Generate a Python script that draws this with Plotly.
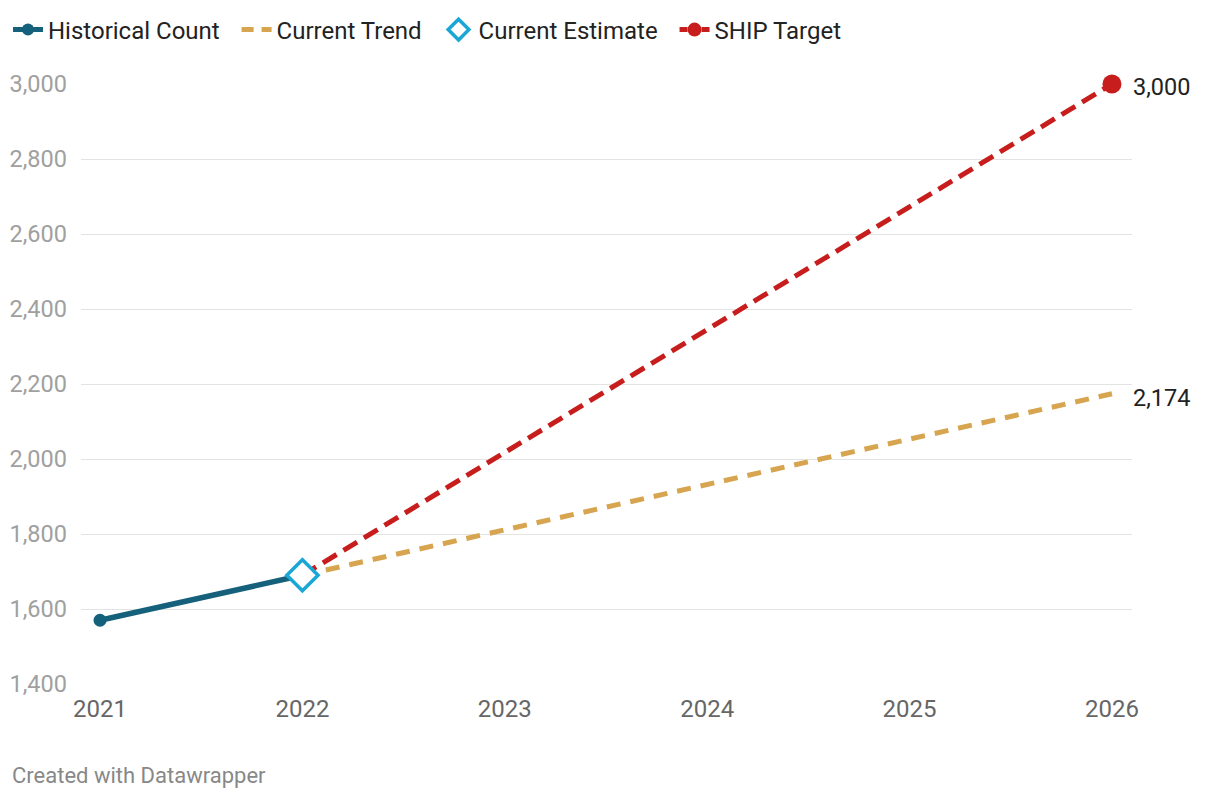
import plotly.graph_objects as go

hist_years = [2021, 2022]
hist_values = [1570, 1690]
trend_years = [2022, 2026]
trend_values = [1690, 2174]
target_years = [2022, 2026]
target_values = [1690, 3000]
estimate_year = [2022]
estimate_value = [1690]
y_ticks = [1400, 1600, 1800, 2000, 2200, 2400, 2600, 2800, 3000]
x_ticks = [2021, 2022, 2023, 2024, 2025, 2026]

FONT = "Roboto"
C_HIST = "#15607a"
C_TREND = "#d7a44f"
C_EST = "#1ba7d6"
C_TARGET = "#c71e1d"
NB = "\u00a0"

fig = go.Figure()

# data traces (no legend)
fig.add_trace(go.Scatter(
    x=trend_years, y=trend_values, mode="lines", showlegend=False,
    line=dict(color=C_TREND, width=5, dash="14px,10px"), hoverinfo="skip"))
fig.add_trace(go.Scatter(
    x=target_years, y=target_values, mode="lines", showlegend=False,
    line=dict(color=C_TARGET, width=5, dash="16px,8px")))
fig.add_trace(go.Scatter(
    x=target_years[-1:], y=target_values[-1:], mode="markers", showlegend=False,
    marker=dict(size=19, color=C_TARGET, opacity=1), cliponaxis=False))
fig.add_trace(go.Scatter(
    x=hist_years, y=hist_values, mode="lines", showlegend=False,
    line=dict(color=C_HIST, width=5.5)))
fig.add_trace(go.Scatter(
    x=hist_years[:1], y=hist_values[:1], mode="markers", showlegend=False,
    marker=dict(size=13, color=C_HIST, opacity=1), cliponaxis=False))
fig.add_trace(go.Scatter(
    x=estimate_year, y=estimate_value, mode="markers", showlegend=False,
    marker=dict(symbol="diamond", size=24, color="white", opacity=1,
                line=dict(color=C_EST, width=3.5)), cliponaxis=False))

# legend-only traces
fig.add_trace(go.Scatter(
    x=[None], y=[None], mode="lines+markers", name="Historical Count" + NB * 2,
    line=dict(color=C_HIST, width=5), marker=dict(size=12, color=C_HIST)))
fig.add_trace(go.Scatter(
    x=[None], y=[None], mode="lines", name="Current Trend" + NB * 2,
    line=dict(color=C_TREND, width=5, dash="12px,8px")))
fig.add_trace(go.Scatter(
    x=[None], y=[None], mode="markers", name="Current Estimate" + NB * 2,
    marker=dict(symbol="diamond", size=23, color="white",
                line=dict(color=C_EST, width=3.5))))
fig.add_trace(go.Scatter(
    x=[None], y=[None], mode="lines+markers", name="SHIP Target",
    line=dict(color=C_TARGET, width=5, dash="8px,3px"),
    marker=dict(size=14, color=C_TARGET)))

fig.add_annotation(x=trend_years[-1], y=target_values[-1], text="{:,}".format(target_values[-1]),
                   xanchor="left", yanchor="middle", xshift=19, yshift=-3,
                   showarrow=False, font=dict(family=FONT, size=23.5, color="#222"))
fig.add_annotation(x=trend_years[-1], y=trend_values[-1], text="{:,}".format(trend_values[-1]),
                   xanchor="left", yanchor="middle", xshift=19, yshift=-4,
                   showarrow=False, font=dict(family=FONT, size=23.5, color="#222"))
fig.add_annotation(xref="paper", yref="paper", x=-0.0676, y=-0.1533,
                   text="Created with Datawrapper", xanchor="left", yanchor="middle",
                   showarrow=False, font=dict(family=FONT, size=22, color="#888"))

fig.update_layout(
    width=1220, height=800,
    margin=dict(l=73, r=96, t=76, b=124),
    paper_bgcolor="white", plot_bgcolor="white",
    font=dict(family=FONT, size=23, color="#222"),
    showlegend=True,
    legend=dict(orientation="h", xref="container", yref="container",
                x=0.0, xanchor="left", y=1 - 22 / 800, yanchor="middle",
                font=dict(family=FONT, size=24, color="#222"),
                itemwidth=30, traceorder="normal", bgcolor="rgba(0,0,0,0)"),
    xaxis=dict(range=[2020.906, 2026.099], tickvals=x_ticks,
               ticktext=[str(v) for v in x_ticks], showgrid=False, zeroline=False,
               showline=False, ticks="", ticklabelstandoff=8, automargin=False,
               tickfont=dict(family=FONT, size=24, color="#666")),
    yaxis=dict(range=[1400, 3000], tickvals=y_ticks,
               ticktext=["{:,}".format(v) for v in y_ticks], showgrid=True,
               gridcolor="#e3e3e3", gridwidth=1, zeroline=False, showline=False,
               ticks="", ticklabelstandoff=13, automargin=False,
               tickfont=dict(family=FONT, size=23.5, color="#a0a0a0")),
)

fig.write_html("out.html")
